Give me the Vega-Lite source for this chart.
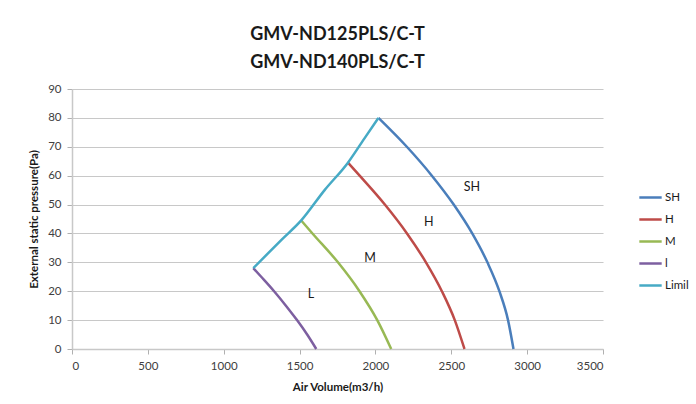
{
  "$schema": "https://vega.github.io/schema/vega-lite/v6.json",
  "width": 531,
  "height": 260,
  "padding": {"left": 28, "top": 26, "right": 5, "bottom": 5},
  "background": "white",
  "title": {
    "text": ["GMV-ND125PLS/C-T", "GMV-ND140PLS/C-T"],
    "font": "Lato",
    "fontSize": 18,
    "fontWeight": "bold",
    "color": "#1a1a1a",
    "lineHeight": 28,
    "offset": 11,
    "anchor": "middle"
  },
  "config": {
    "view": {"stroke": null},
    "font": "Lato",
    "axis": {
      "labelFont": "Lato",
      "labelFontSize": 11.5,
      "labelColor": "#404040",
      "titleFont": "Lato",
      "titleFontSize": 11.5,
      "titleFontWeight": "bold",
      "titleColor": "#1a1a1a",
      "gridColor": "#c8c8c8",
      "gridWidth": 1.2,
      "domainColor": "#c8c8c8",
      "domainWidth": 1.5,
      "tickColor": "#b0b0b0",
      "tickSize": 5
    }
  },
  "encoding": {
    "x": {
      "field": "q", "type": "quantitative",
      "scale": {"domain": [0, 3500], "nice": false},
      "axis": {"values": [0, 500, 1000, 1500, 2000, 2500, 3000, 3500], "format": "d", "grid": false, "title": "Air Volume(m3/h)", "titlePadding": 10, "labelPadding": 6}
    },
    "y": {
      "field": "p", "type": "quantitative",
      "scale": {"domain": [0, 90], "nice": false},
      "axis": {"values": [0, 10, 20, 30, 40, 50, 60, 70, 80, 90], "format": "d", "title": "External static pressure(Pa)", "titlePadding": 8, "labelPadding": 6, "domain": true}
    }
  },
  "layer": [
    {
      "data": {
        "values": [
          {"series": "SH", "o": 1, "q": 2020, "p": 80},
          {"series": "SH", "o": 2, "q": 2207, "p": 70},
          {"series": "SH", "o": 3, "q": 2372, "p": 60},
          {"series": "SH", "o": 4, "q": 2516, "p": 50},
          {"series": "SH", "o": 5, "q": 2638, "p": 40},
          {"series": "SH", "o": 6, "q": 2738, "p": 30},
          {"series": "SH", "o": 7, "q": 2817, "p": 20},
          {"series": "SH", "o": 8, "q": 2874, "p": 10},
          {"series": "SH", "o": 9, "q": 2910, "p": 0},
          {"series": "H", "o": 1, "q": 1819, "p": 64.5},
          {"series": "H", "o": 2, "q": 1896, "p": 60},
          {"series": "H", "o": 3, "q": 2062, "p": 50},
          {"series": "H", "o": 4, "q": 2208, "p": 40},
          {"series": "H", "o": 5, "q": 2333, "p": 30},
          {"series": "H", "o": 6, "q": 2438, "p": 20},
          {"series": "H", "o": 7, "q": 2523, "p": 10},
          {"series": "H", "o": 8, "q": 2587, "p": 0},
          {"series": "M", "o": 1, "q": 1511, "p": 44.5},
          {"series": "M", "o": 2, "q": 1585, "p": 40},
          {"series": "M", "o": 3, "q": 1753, "p": 30},
          {"series": "M", "o": 4, "q": 1895, "p": 20},
          {"series": "M", "o": 5, "q": 2012, "p": 10},
          {"series": "M", "o": 6, "q": 2104, "p": 0},
          {"series": "l", "o": 1, "q": 1195, "p": 28},
          {"series": "l", "o": 2, "q": 1247, "p": 25},
          {"series": "l", "o": 3, "q": 1332, "p": 20},
          {"series": "l", "o": 4, "q": 1410, "p": 15},
          {"series": "l", "o": 5, "q": 1483, "p": 10},
          {"series": "l", "o": 6, "q": 1550, "p": 5},
          {"series": "l", "o": 7, "q": 1610, "p": 0},
          {"series": "Limil", "o": 1, "q": 1195, "p": 28},
          {"series": "Limil", "o": 2, "q": 1379, "p": 37.7},
          {"series": "Limil", "o": 3, "q": 1511, "p": 44.5},
          {"series": "Limil", "o": 4, "q": 1665, "p": 55},
          {"series": "Limil", "o": 5, "q": 1819, "p": 64.5},
          {"series": "Limil", "o": 6, "q": 1929, "p": 73},
          {"series": "Limil", "o": 7, "q": 2020, "p": 80}
        ]
      },
      "mark": {"type": "line", "strokeWidth": 2.5, "interpolate": "monotone"},
      "encoding": {
        "color": {
          "field": "series", "type": "nominal",
          "scale": {"domain": ["SH", "H", "M", "l", "Limil"], "range": ["#4a7ebb", "#be4b48", "#98b954", "#7d5fa0", "#46aac5"]},
          "legend": {
            "title": null,
            "orient": "none",
            "legendX": 566,
            "legendY": 96,
            "symbolType": "stroke",
            "symbolSize": 500,
            "symbolStrokeWidth": 2.5,
            "labelFont": "Lato",
            "labelFontSize": 11.5,
            "labelColor": "#1a1a1a",
            "rowPadding": 4,
            "labelOffset": 2
          }
        },
        "order": {"field": "o", "type": "quantitative"}
      }
    },
    {
      "data": {
        "values": [
          {"label": "SH", "q": 2636, "p": 56},
          {"label": "H", "q": 2352, "p": 44},
          {"label": "M", "q": 1964, "p": 31.5},
          {"label": "L", "q": 1575, "p": 19}
        ]
      },
      "mark": {"type": "text", "font": "Lato", "fontSize": 12.5, "color": "#1a1a1a"},
      "encoding": {
        "text": {"field": "label"}
      }
    }
  ]
}
